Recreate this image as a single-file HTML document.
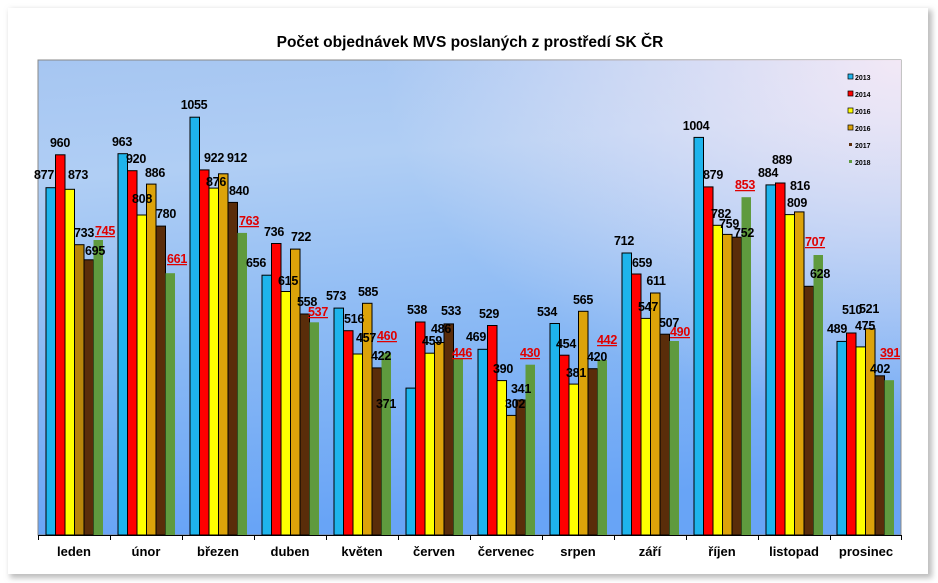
<!DOCTYPE html>
<html><head><meta charset="utf-8"><style>
body{margin:0;background:#fff;}
svg{display:block;font-family:"Liberation Sans",Arial,sans-serif;}
.l{font-size:12.5px;font-weight:bold;fill:#000;text-anchor:middle;letter-spacing:-0.3px}
.r{font-size:12.5px;font-weight:bold;fill:#e00000;text-anchor:middle;text-decoration:underline;letter-spacing:-0.3px}
.m{font-size:13px;font-weight:bold;fill:#000;text-anchor:middle}
rect.b{stroke:#000;stroke-width:1}
</style></head><body>
<svg width="938" height="583" viewBox="0 0 938 583">
<defs>
<linearGradient id="bg" x1="0" y1="0" x2="0.15" y2="1">
<stop offset="0" stop-color="#a6c6f2"/>
<stop offset="0.25" stop-color="#b0cef4"/>
<stop offset="0.6" stop-color="#8cbaf4"/>
<stop offset="1" stop-color="#68a4f6"/>
</linearGradient>
<radialGradient id="pk" cx="1" cy="0" r="0.75" gradientTransform="translate(0.2,0) scale(0.8,1)">
<stop offset="0" stop-color="#f6eaf6" stop-opacity="0.95"/>
<stop offset="1" stop-color="#f6eaf6" stop-opacity="0"/>
</radialGradient>
<filter id="sh" x="-5%" y="-5%" width="110%" height="110%"><feGaussianBlur stdDeviation="3"/></filter>
</defs>
<rect x="10" y="10" width="922" height="568" fill="#bbb" filter="url(#sh)"/>
<rect x="8" y="8" width="920" height="566" fill="#fff"/>
<text x="470" y="47" font-size="15.5" font-weight="bold" text-anchor="middle">Počet objednávek MVS poslaných z prostředí SK ČR</text>
<rect x="38" y="60" width="863" height="475" fill="url(#bg)" stroke="#888"/>
<rect x="38" y="60" width="863" height="475" fill="url(#pk)"/>
<g font-size="10" font-weight="bold">
<rect x="848" y="74" width="5" height="5" fill="#1eb4ec" stroke="#000" stroke-width="0.7"/><text x="855" y="80" font-size="7">2013</text>
<rect x="848" y="91" width="5" height="5" fill="#f00" stroke="#000" stroke-width="0.7"/><text x="855" y="97" font-size="7">2014</text>
<rect x="848" y="108" width="5" height="5" fill="#ff0" stroke="#000" stroke-width="0.7"/><text x="855" y="114" font-size="7">2016</text>
<rect x="848" y="125" width="5" height="5" fill="#dca30a" stroke="#000" stroke-width="0.7"/><text x="855" y="131" font-size="7">2016</text>
<rect x="849" y="143" width="3" height="3" fill="#5a2d0a"/><text x="855" y="148" font-size="7">2017</text>
<rect x="849" y="160" width="3" height="3" fill="#5f9a3e"/><text x="855" y="165" font-size="7">2018</text>
</g>

<!-- leden -->
<g transform="translate(38,0)">
<rect class="b" x="8" y="187.7" width="9.5" height="347.3" fill="#1eb4ec"/>
<rect class="b" x="17.5" y="154.8" width="9.5" height="380.2" fill="#f00"/>
<rect class="b" x="27" y="189.3" width="9.5" height="345.7" fill="#ff0"/>
<rect class="b" x="36.5" y="244.7" width="9.5" height="290.3" fill="#b8860b"/>
<rect class="b" x="46" y="259.8" width="9.5" height="275.2" fill="#5a2d0a"/>
<rect x="55.5" y="240" width="9.5" height="295" fill="#5f9a3e"/>
<text class="l" x="6" y="179">877</text><text class="l" x="22" y="147">960</text><text class="l" x="40" y="179">873</text>
<text class="l" x="46" y="237">733</text><text class="l" x="57" y="255">695</text><text class="r" x="67" y="235">745</text>
</g>
<!-- únor -->
<g transform="translate(110,0)">
<rect class="b" x="8" y="153.7" width="9.5" height="381.3" fill="#1eb4ec"/>
<rect class="b" x="17.5" y="170.7" width="9.5" height="364.3" fill="#f00"/>
<rect class="b" x="27" y="215" width="9.5" height="320" fill="#ff0"/>
<rect class="b" x="36.5" y="184.1" width="9.5" height="350.9" fill="#dca30a"/>
<rect class="b" x="46" y="226.1" width="9.5" height="308.9" fill="#5a2d0a"/>
<rect x="55.5" y="273.2" width="9.5" height="261.8" fill="#5f9a3e"/>
<text class="l" x="12" y="146">963</text><text class="l" x="26" y="163">920</text><text class="l" x="32" y="203">808</text>
<text class="l" x="45" y="177">886</text><text class="l" x="56" y="218">780</text><text class="r" x="67" y="263">661</text>
</g>
<!-- březen -->
<g transform="translate(182,0)">
<rect class="b" x="8" y="117.2" width="9.5" height="417.8" fill="#1eb4ec"/>
<rect class="b" x="17.5" y="169.9" width="9.5" height="365.1" fill="#f00"/>
<rect class="b" x="27" y="188.1" width="9.5" height="346.9" fill="#ff0"/>
<rect class="b" x="36.5" y="173.8" width="9.5" height="361.2" fill="#dca30a"/>
<rect class="b" x="46" y="202.4" width="9.5" height="332.6" fill="#5a2d0a"/>
<rect x="55.5" y="232.9" width="9.5" height="302.1" fill="#5f9a3e"/>
<text class="l" x="12" y="109">1055</text><text class="l" x="32" y="162">922</text><text class="l" x="34" y="186">876</text>
<text class="l" x="55" y="162">912</text><text class="l" x="57" y="195">840</text><text class="r" x="67" y="225">763</text>
</g>
<!-- duben -->
<g transform="translate(254,0)">
<rect class="b" x="8" y="275.2" width="9.5" height="259.8" fill="#1eb4ec"/>
<rect class="b" x="17.5" y="243.5" width="9.5" height="291.5" fill="#f00"/>
<rect class="b" x="27" y="291.5" width="9.5" height="243.5" fill="#ff0"/>
<rect class="b" x="36.5" y="249.1" width="9.5" height="285.9" fill="#dca30a"/>
<rect class="b" x="46" y="314" width="9.5" height="221" fill="#5a2d0a"/>
<rect x="55.5" y="322.3" width="9.5" height="212.7" fill="#5f9a3e"/>
<text class="l" x="2" y="267">656</text><text class="l" x="20" y="236">736</text><text class="l" x="34" y="285">615</text>
<text class="l" x="47" y="241">722</text><text class="l" x="53" y="306">558</text><text class="r" x="64" y="316">537</text>
</g>
<!-- květen -->
<g transform="translate(326,0)">
<rect class="b" x="8" y="308.1" width="9.5" height="226.9" fill="#1eb4ec"/>
<rect class="b" x="17.5" y="330.7" width="9.5" height="204.3" fill="#f00"/>
<rect class="b" x="27" y="354" width="9.5" height="181" fill="#ff0"/>
<rect class="b" x="36.5" y="303.3" width="9.5" height="231.7" fill="#dca30a"/>
<rect class="b" x="46" y="367.9" width="9.5" height="167.1" fill="#5a2d0a"/>
<rect x="55.5" y="352.8" width="9.5" height="182.2" fill="#5f9a3e"/>
<text class="l" x="10" y="300">573</text><text class="l" x="28" y="323">516</text><text class="l" x="40" y="342">457</text>
<text class="l" x="42" y="296">585</text><text class="l" x="55" y="360">422</text><text class="r" x="61" y="340">460</text>
</g>
<!-- červen -->
<g transform="translate(398,0)">
<rect class="b" x="8" y="388.1" width="9.5" height="146.9" fill="#1eb4ec"/>
<rect class="b" x="17.5" y="322" width="9.5" height="213" fill="#f00"/>
<rect class="b" x="27" y="353.2" width="9.5" height="181.8" fill="#ff0"/>
<rect class="b" x="36.5" y="342.5" width="9.5" height="192.5" fill="#dca30a"/>
<rect class="b" x="46" y="323.9" width="9.5" height="211.1" fill="#5a2d0a"/>
<rect x="55.5" y="358.4" width="9.5" height="176.6" fill="#5f9a3e"/>
<text class="l" x="-12" y="408">371</text><text class="l" x="19" y="314">538</text><text class="l" x="34" y="345">459</text>
<text class="l" x="43" y="333">486</text><text class="l" x="53" y="315">533</text><text class="r" x="64" y="357">446</text>
</g>
<!-- červenec -->
<g transform="translate(470,0)">
<rect class="b" x="8" y="349.3" width="9.5" height="185.7" fill="#1eb4ec"/>
<rect class="b" x="17.5" y="325.5" width="9.5" height="209.5" fill="#f00"/>
<rect class="b" x="27" y="380.6" width="9.5" height="154.4" fill="#ff0"/>
<rect class="b" x="36.5" y="415.4" width="9.5" height="119.6" fill="#dca30a"/>
<rect class="b" x="46" y="400" width="9.5" height="135" fill="#5a2d0a"/>
<rect x="55.5" y="364.7" width="9.5" height="170.3" fill="#5f9a3e"/>
<text class="l" x="6" y="341">469</text><text class="l" x="19" y="318">529</text><text class="l" x="33" y="373">390</text>
<text class="l" x="45" y="408">302</text><text class="l" x="51" y="393">341</text><text class="r" x="60" y="357">430</text>
</g>
<!-- srpen -->
<g transform="translate(542,0)">
<rect class="b" x="8" y="323.5" width="9.5" height="211.5" fill="#1eb4ec"/>
<rect class="b" x="17.5" y="355.2" width="9.5" height="179.8" fill="#f00"/>
<rect class="b" x="27" y="384.1" width="9.5" height="150.9" fill="#ff0"/>
<rect class="b" x="36.5" y="311.3" width="9.5" height="223.7" fill="#dca30a"/>
<rect class="b" x="46" y="368.7" width="9.5" height="166.3" fill="#5a2d0a"/>
<rect x="55.5" y="360" width="9.5" height="175" fill="#5f9a3e"/>
<text class="l" x="5" y="316">534</text><text class="l" x="24" y="348">454</text><text class="l" x="34" y="377">381</text>
<text class="l" x="41" y="304">565</text><text class="l" x="55" y="361">420</text><text class="r" x="65" y="344">442</text>
</g>
<!-- září -->
<g transform="translate(614,0)">
<rect class="b" x="8" y="253" width="9.5" height="282" fill="#1eb4ec"/>
<rect class="b" x="17.5" y="274" width="9.5" height="261" fill="#f00"/>
<rect class="b" x="27" y="318.4" width="9.5" height="216.6" fill="#ff0"/>
<rect class="b" x="36.5" y="293" width="9.5" height="242" fill="#dca30a"/>
<rect class="b" x="46" y="334.2" width="9.5" height="200.8" fill="#5a2d0a"/>
<rect x="55.5" y="341" width="9.5" height="194" fill="#5f9a3e"/>
<text class="l" x="10" y="245">712</text><text class="l" x="28" y="267">659</text><text class="l" x="34" y="311">547</text>
<text class="l" x="42" y="285">611</text><text class="l" x="55" y="327">507</text><text class="r" x="66" y="336">490</text>
</g>
<!-- říjen -->
<g transform="translate(686,0)">
<rect class="b" x="8" y="137.4" width="9.5" height="397.6" fill="#1eb4ec"/>
<rect class="b" x="17.5" y="186.9" width="9.5" height="348.1" fill="#f00"/>
<rect class="b" x="27" y="225.3" width="9.5" height="309.7" fill="#ff0"/>
<rect class="b" x="36.5" y="234.4" width="9.5" height="300.6" fill="#dca30a"/>
<rect class="b" x="46" y="237.2" width="9.5" height="297.8" fill="#5a2d0a"/>
<rect x="55.5" y="197.2" width="9.5" height="337.8" fill="#5f9a3e"/>
<text class="l" x="10" y="130">1004</text><text class="l" x="27" y="179">879</text><text class="l" x="35" y="218">782</text>
<text class="l" x="43" y="228">759</text><text class="l" x="58" y="237">752</text><text class="r" x="59" y="189">853</text>
</g>
<!-- listopad -->
<g transform="translate(758,0)">
<rect class="b" x="8" y="184.9" width="9.5" height="350.1" fill="#1eb4ec"/>
<rect class="b" x="17.5" y="183" width="9.5" height="352" fill="#f00"/>
<rect class="b" x="27" y="214.6" width="9.5" height="320.4" fill="#ff0"/>
<rect class="b" x="36.5" y="211.9" width="9.5" height="323.1" fill="#dca30a"/>
<rect class="b" x="46" y="286.3" width="9.5" height="248.7" fill="#5a2d0a"/>
<rect x="55.5" y="255" width="9.5" height="280" fill="#5f9a3e"/>
<text class="l" x="10" y="177">884</text><text class="l" x="24" y="164">889</text><text class="l" x="39" y="207">809</text>
<text class="l" x="42" y="190">816</text><text class="l" x="62" y="278">628</text><text class="r" x="57" y="246">707</text>
</g>
<!-- prosinec -->
<g transform="translate(830,0)">
<rect class="b" x="7" y="341.4" width="9.5" height="193.6" fill="#1eb4ec"/>
<rect class="b" x="16.5" y="333" width="9.5" height="202" fill="#f00"/>
<rect class="b" x="26" y="346.9" width="9.5" height="188.1" fill="#ff0"/>
<rect class="b" x="35.5" y="328.7" width="9.5" height="206.3" fill="#dca30a"/>
<rect class="b" x="45" y="375.8" width="9.5" height="159.2" fill="#5a2d0a"/>
<rect x="54.5" y="380.2" width="9.5" height="154.8" fill="#5f9a3e"/>
<text class="l" x="7" y="333">489</text><text class="l" x="22" y="314">510</text><text class="l" x="35" y="330">475</text>
<text class="l" x="39" y="313">521</text><text class="l" x="50" y="373">402</text><text class="r" x="60" y="357">391</text>
</g>

<g stroke="#000" stroke-width="1">
<line x1="38" y1="535.5" x2="902" y2="535.5"/>
<line x1="38.5" y1="535" x2="38.5" y2="540"/><line x1="110.5" y1="535" x2="110.5" y2="540"/><line x1="182.5" y1="535" x2="182.5" y2="540"/><line x1="254.5" y1="535" x2="254.5" y2="540"/><line x1="326.5" y1="535" x2="326.5" y2="540"/><line x1="398.5" y1="535" x2="398.5" y2="540"/><line x1="470.5" y1="535" x2="470.5" y2="540"/><line x1="542.5" y1="535" x2="542.5" y2="540"/><line x1="614.5" y1="535" x2="614.5" y2="540"/><line x1="686.5" y1="535" x2="686.5" y2="540"/><line x1="758.5" y1="535" x2="758.5" y2="540"/><line x1="830.5" y1="535" x2="830.5" y2="540"/><line x1="901.5" y1="535" x2="901.5" y2="540"/>
</g>
<g class="m">
<text class="m" x="74" y="556">leden</text><text class="m" x="146" y="556">únor</text><text class="m" x="218" y="556">březen</text><text class="m" x="290" y="556">duben</text><text class="m" x="362" y="556">květen</text><text class="m" x="434" y="556">červen</text><text class="m" x="506" y="556">červenec</text><text class="m" x="578" y="556">srpen</text><text class="m" x="650" y="556">září</text><text class="m" x="722" y="556">říjen</text><text class="m" x="794" y="556">listopad</text><text class="m" x="866" y="556">prosinec</text>
</g>
</svg>
</body></html>
